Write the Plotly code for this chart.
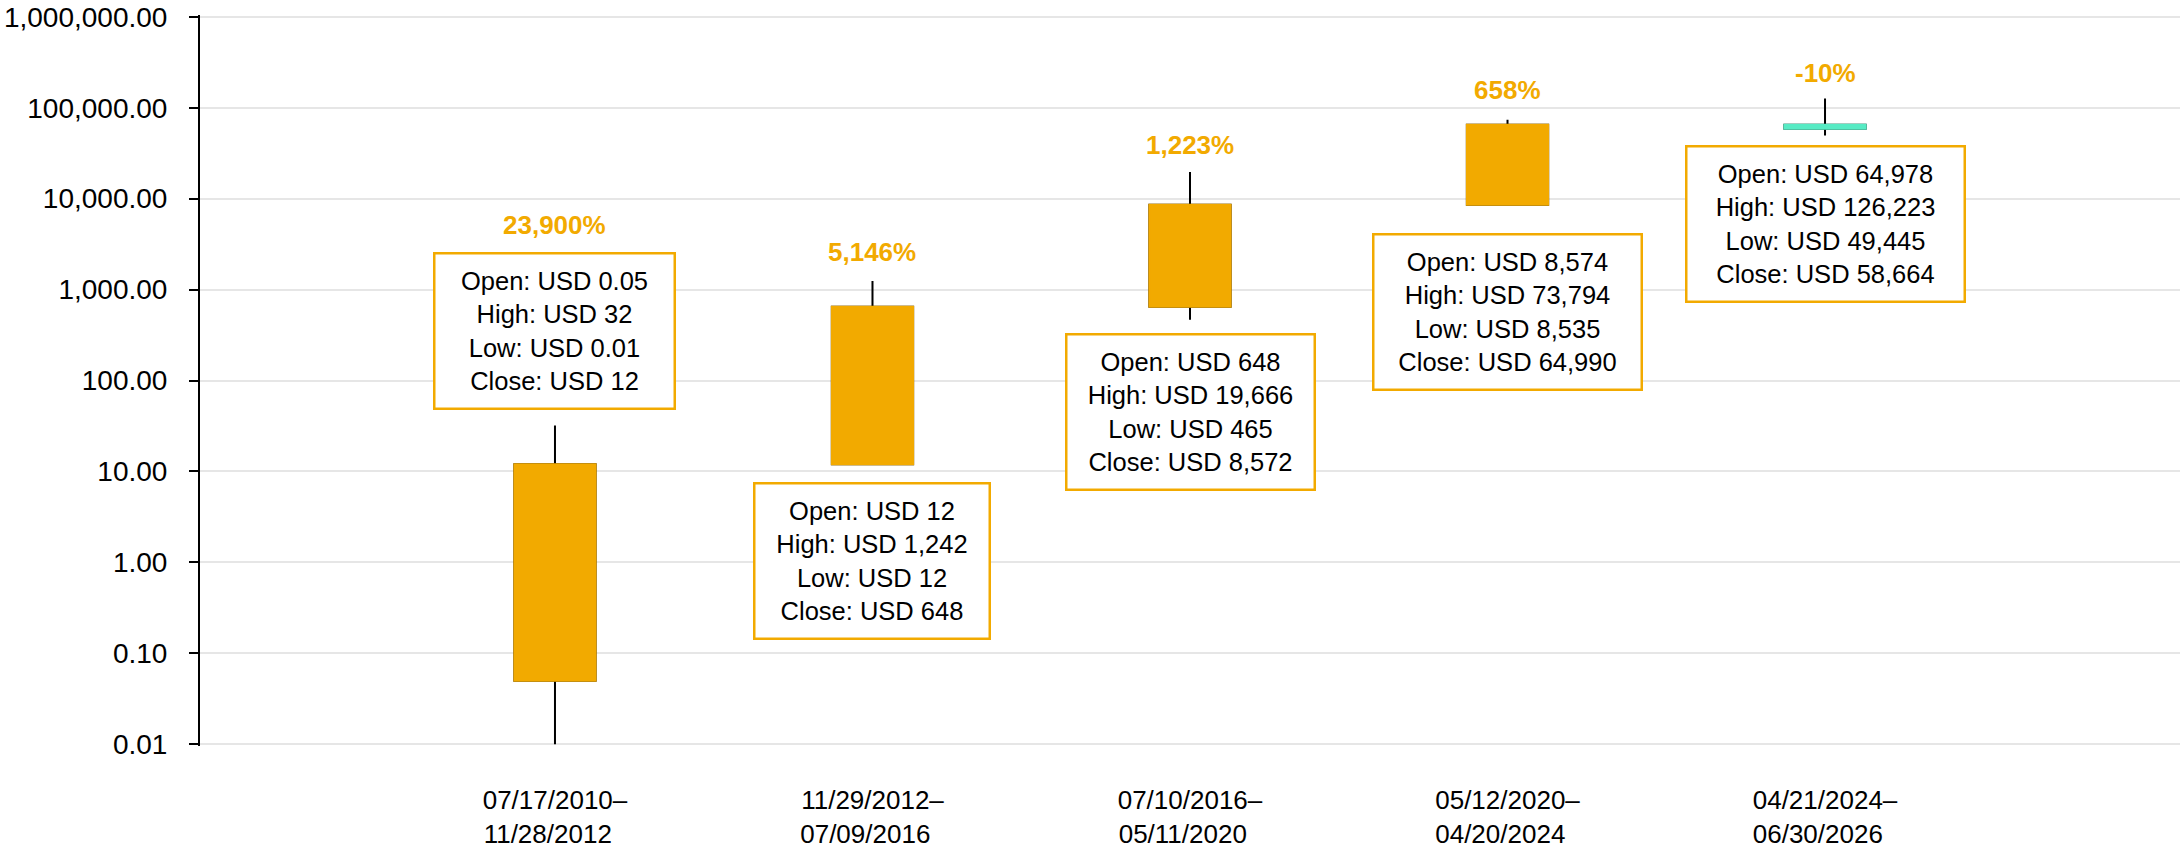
import plotly.graph_objects as go

# ---------------- data ----------------
periods = ["07/17/2010–<br>11/28/2012\u00a0\u00a0",
           "11/29/2012–<br>07/09/2016\u00a0\u00a0",
           "07/10/2016–<br>05/11/2020\u00a0\u00a0",
           "05/12/2020–<br>04/20/2024\u00a0\u00a0",
           "04/21/2024–<br>06/30/2026\u00a0\u00a0"]
open_ = [0.05, 12, 648, 8574, 64978]
high = [32, 1242, 19666, 73794, 126223]
low = [0.01, 12, 465, 8535, 49445]
close = [12, 648, 8572, 64990, 58664]
open_txt = ["0.05", "12", "648", "8,574", "64,978"]
high_txt = ["32", "1,242", "19,666", "73,794", "126,223"]
low_txt = ["0.01", "12", "465", "8,535", "49,445"]
close_txt = ["12", "648", "8,572", "64,990", "58,664"]
pct_labels = ["23,900%", "5,146%", "1,223%", "658%", "-10%"]
y_tickvals = [0.01, 0.1, 1, 10, 100, 1000, 10000, 100000, 1000000]
y_ticktext = ["0.01", "0.10", "1.00", "10.00", "100.00", "1,000.00",
              "10,000.00", "100,000.00", "1,000,000.00"]

# ---------------- styles / layout positions ----------------
ORANGE = "#F2AA00"
TEAL = "#57EBC4"
FONT = "Liberation Sans, Arial, sans-serif"
xs = list(range(len(periods)))
box_y = [2.548, 0.013, 1.655, 2.758, 3.723]      # log10 centre of info boxes
box_w = [238, 233, 246, 266, 276]                # info box widths (px)
pct_y = [3.708, 3.411, 4.589, 5.194, 5.384]      # log10 centre of % labels

fig = go.Figure()
# full candles (black wicks)
fig.add_trace(go.Candlestick(
    x=xs, open=open_, high=high, low=low, close=close,
    increasing=dict(fillcolor=ORANGE, line=dict(color="black", width=2)),
    decreasing=dict(fillcolor=TEAL, line=dict(color="black", width=2)),
    whiskerwidth=0, hoverinfo="skip", showlegend=False))
# bodies without black outline
body_hi = [max(o, c) for o, c in zip(open_, close)]
body_lo = [min(o, c) for o, c in zip(open_, close)]
fig.add_trace(go.Candlestick(
    x=xs, open=open_, high=body_hi, low=body_lo, close=close,
    increasing=dict(fillcolor=ORANGE, line=dict(color=ORANGE, width=2)),
    decreasing=dict(fillcolor=TEAL, line=dict(color=TEAL, width=2)),
    whiskerwidth=0, hoverinfo="skip", showlegend=False))

annotations = []
for i in xs:
    txt = (f"Open: USD {open_txt[i]}<br>High: USD {high_txt[i]}<br>"
           f"Low: USD {low_txt[i]}<br>Close: USD {close_txt[i]}")
    annotations.append(dict(
        x=i, y=box_y[i], xref="x", yref="y", text=txt, showarrow=False,
        font=dict(family=FONT, size=25.5, color="black"),
        align="center", valign="middle",
        width=box_w[i], height=153,
        bordercolor=ORANGE, borderwidth=2.5, borderpad=0, bgcolor="white",
        xanchor="center", yanchor="middle"))
    annotations.append(dict(
        x=i, y=pct_y[i], xref="x", yref="y", text=f"<b>{pct_labels[i]}</b>",
        showarrow=False, font=dict(family=FONT, size=26, color=ORANGE),
        xanchor="center", yanchor="middle"))

fig.update_layout(
    width=2180, height=850,
    margin=dict(l=200, r=0, t=15, b=104),
    paper_bgcolor="white", plot_bgcolor="white",
    font=dict(family=FONT, color="black"),
    showlegend=False,
    boxgap=0.744, boxgroupgap=0,
    annotations=annotations,
    xaxis=dict(
        range=[-1.118, 5.118], tickvals=xs, ticktext=periods,
        showgrid=False, zeroline=False, showline=False, ticks="",
        tickfont=dict(family=FONT, size=26, color="black"),
        ticklabelstandoff=36,
        rangeslider=dict(visible=False), fixedrange=True),
    yaxis=dict(
        type="log", range=[-2.02, 6.02], tickvals=y_tickvals,
        ticktext=y_ticktext,
        showgrid=True, gridcolor="#E6E6E6", gridwidth=2,
        zeroline=False, showline=True, linecolor="black", linewidth=2,
        ticks="outside", ticklen=9, tickwidth=2, tickcolor="black",
        tickfont=dict(family=FONT, size=28, color="black"),
        ticklabelstandoff=16, ticklabeloverflow="allow", fixedrange=True),
)

fig.write_html("out.html",
               config={"displayModeBar": False, "staticPlot": True},
               post_script="document.body.style.margin='0';"
                           "document.body.style.overflow='hidden';")
